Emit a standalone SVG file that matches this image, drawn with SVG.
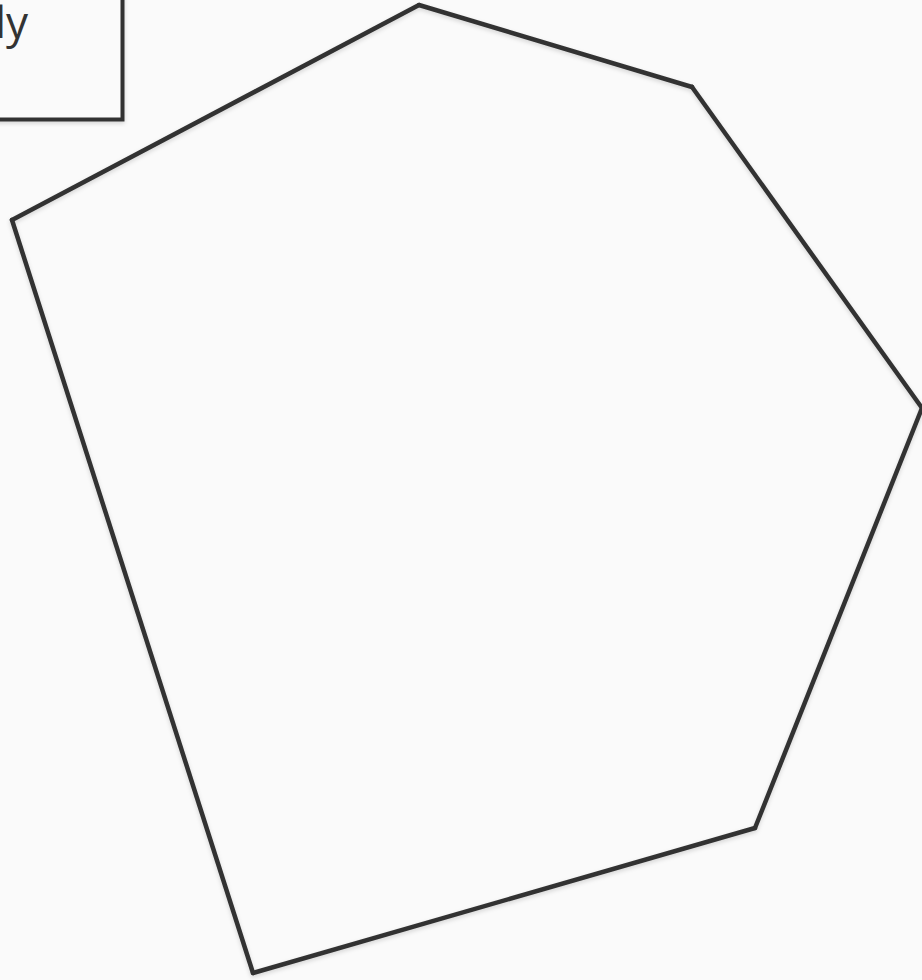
<svg xmlns="http://www.w3.org/2000/svg" width="922" height="980" viewBox="0 0 922 980">
<defs>
<style>
.edge{fill:none;stroke:#333333;stroke-width:4.5;stroke-linecap:round;}
.box{fill:#fafafa;stroke:#333333;stroke-width:4;}
.lbl{font-family:"Open Sans","Liberation Sans",sans-serif;font-size:44px;fill:#333333;}
</style>
<filter id="sh" x="-5%" y="-5%" width="110%" height="110%">
<feDropShadow dx="0" dy="2" stdDeviation="2" flood-color="#000" flood-opacity="0.15"/>
</filter>
</defs>
<rect width="922" height="980" fill="#fafafa"/>
<g id="node-box">
<rect class="box" x="-20" y="-20" width="142.5" height="139.5" filter="url(#sh)"/>
<text class="lbl" x="-5" y="38">ly</text>
</g>
<g id="connectors" filter="url(#sh)">
<line class="edge" x1="12" y1="220" x2="419" y2="5"/>
<line class="edge" x1="419" y1="5" x2="692" y2="87"/>
<line class="edge" x1="692" y1="87" x2="922" y2="408"/>
<line class="edge" x1="922" y1="408" x2="755" y2="828"/>
<line class="edge" x1="755" y1="828" x2="253" y2="973"/>
<line class="edge" x1="253" y1="973" x2="12" y2="220"/>
</g>
</svg>
